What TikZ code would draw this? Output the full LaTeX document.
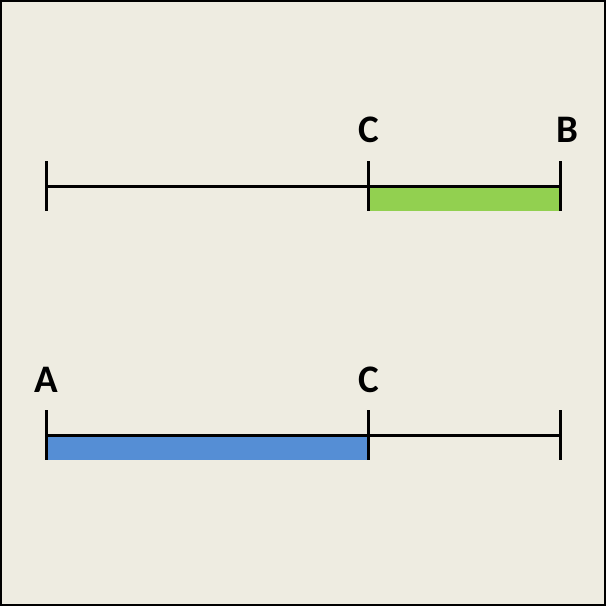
\documentclass[tikz,border=0pt]{standalone}
\usepackage{fontspec}
\setmainfont{Carlito}
\definecolor{paper}{RGB}{238,236,225}
\definecolor{partgreen}{RGB}{146,208,80}
\definecolor{partblue}{RGB}{85,142,213}
\begin{document}
\begin{tikzpicture}[x=0.5pt,y=-0.5pt]
        \tikzstyle{seg}=[draw=black, line width=1.5pt]
        \tikzstyle{tick}=[draw=black, line width=1.5pt]
        \tikzstyle{letter}=[inner sep=0pt, font=\bfseries\fontsize{19.5}{20}\selectfont]
        \useasboundingbox (0,0) rectangle (606,606);
        \path[fill=paper, draw=black, line width=1pt] (1,1) rectangle (605,605);

        % upper segment, C to B marked
        \coordinate (ua) at (46,186);
        \coordinate (uc) at (368,186);
        \coordinate (ub) at (560,186);
        \coordinate (ubb) at (560,211);
        \fill[partgreen] (uc) rectangle (ubb);
        \path[seg] (ua) -- (ub);
        \foreach \p in {ua,uc,ub}
            \path[tick] ([yshift=12.5pt]\p) -- ([yshift=-12.5pt]\p);
        \node [letter] (uC) at (369,130) {C};
        \node [letter] (uB) at (567,130) {B};

        % lower segment, A to C marked
        \coordinate (la) at (46,435);
        \coordinate (lc) at (368,435);
        \coordinate (lb) at (560,435);
        \coordinate (lcb) at (368,460);
        \fill[partblue] (la) rectangle (lcb);
        \path[seg] (la) -- (lb);
        \foreach \p in {la,lc,lb}
            \path[tick] ([yshift=12.5pt]\p) -- ([yshift=-12.5pt]\p);
        \node [letter] (lA) at (46,380) {A};
        \node [letter] (lC) at (369,380) {C};
\end{tikzpicture}
\end{document}
